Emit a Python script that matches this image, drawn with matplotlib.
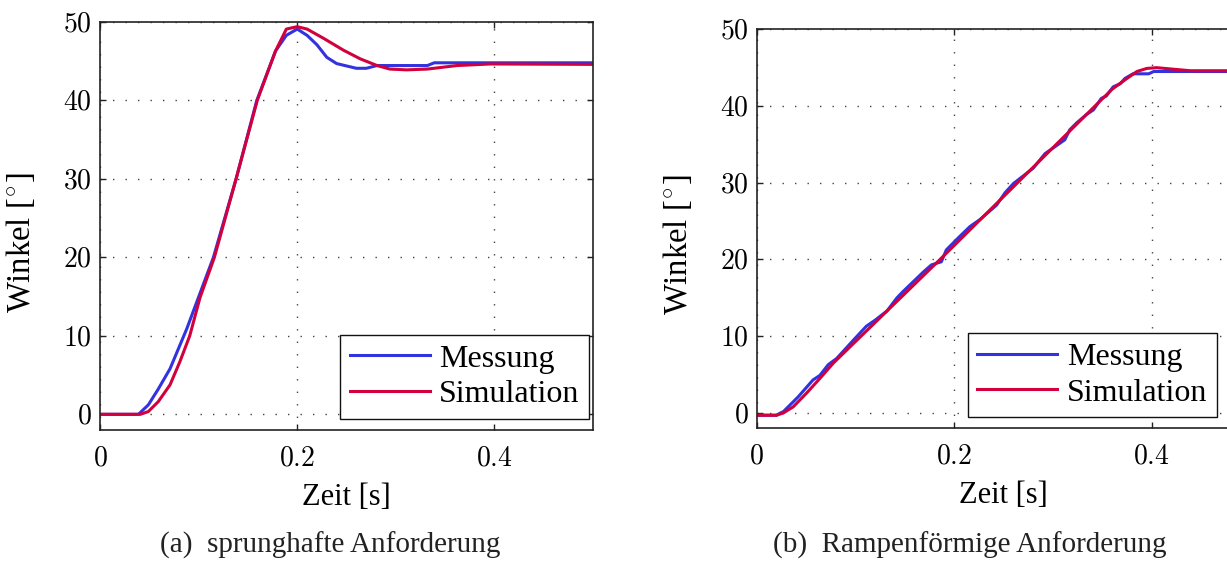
import numpy as np
import matplotlib
matplotlib.use('Agg')
import matplotlib.pyplot as plt

# data
# (a) step request
t_step_mess = [0, 0.039, 0.049, 0.059, 0.071, 0.088, 0.115, 0.138, 0.159, 0.178, 0.189,
               0.200, 0.210, 0.220, 0.230, 0.240, 0.260, 0.270, 0.281, 0.332, 0.339, 0.5]
v_step_mess = [0, 0, 1.2, 3.2, 5.8, 10.9, 20, 30, 40, 46.3, 48.3,
               49.1, 48.3, 47.1, 45.5, 44.7, 44.1, 44.1, 44.45, 44.45, 44.8, 44.8]
t_step_sim = [0, 0.041, 0.049, 0.059, 0.071, 0.081, 0.091, 0.1015, 0.116, 0.138, 0.1595,
              0.178, 0.189, 0.200, 0.210, 0.227, 0.247, 0.264, 0.281, 0.294, 0.311,
              0.332, 0.362, 0.396, 0.5]
v_step_sim = [0, 0, 0.35, 1.6, 3.75, 6.7, 10.0, 14.9, 20, 30, 40,
              46.3, 49.1, 49.4, 49.1, 47.9, 46.4, 45.3, 44.45, 44.0, 43.9,
              44.0, 44.45, 44.65, 44.6]

# (b) ramp request
t_ramp_mess = [0, 0.020, 0.024, 0.027, 0.042, 0.057, 0.064, 0.0725, 0.081, 0.098,
               0.111, 0.120, 0.132, 0.142, 0.148, 0.169, 0.177, 0.187, 0.192, 0.204,
               0.216, 0.226, 0.243, 0.2515, 0.260, 0.270, 0.280, 0.292, 0.302, 0.312,
               0.317, 0.324, 0.334, 0.341, 0.349, 0.354, 0.361, 0.368, 0.373, 0.381,
               0.397, 0.402, 0.5]
v_ramp_mess = [-0.3, -0.3, 0.0, 0.17, 2.1, 4.3, 4.9, 6.3, 7.1, 9.5,
               11.3, 12.1, 13.3, 15.0, 15.8, 18.4, 19.3, 19.7, 21.25, 22.8,
               24.3, 25.2, 27.1, 28.7, 29.9, 30.9, 31.9, 33.8, 34.7, 35.6,
               36.9, 37.8, 38.9, 39.5, 41.0, 41.3, 42.5, 42.9, 43.6, 44.2,
               44.2, 44.5, 44.5]
t_ramp_sim = [0, 0.020, 0.027, 0.037, 0.0506, 0.064, 0.0776, 0.1856, 0.3426, 0.360,
              0.375, 0.385, 0.395, 0.405, 0.422, 0.439, 0.5]
v_ramp_sim = [-0.3, -0.3, 0.0, 0.8, 2.6, 4.5, 6.5, 20, 40, 42.2,
              43.6, 44.5, 44.9, 45.0, 44.8, 44.6, 44.6]

xticks = [0, 0.2, 0.4]
xticklabels = ['$0$', '$0.2$', '$0.4$']
yticks = [0, 10, 20, 30, 40, 50]
yticklabels = ['$0$', '$10$', '$20$', '$30$', '$40$', '$50$']
labels = ['Messung', 'Simulation']
captions = ['(a)  sprunghafte Anforderung', '(b)  Rampenförmige Anforderung']

blue = '#3232e0'
red = '#d2003c'

plt.rcParams['font.family'] = ['Liberation Serif', 'DejaVu Serif']
plt.rcParams['mathtext.fontset'] = 'cm'

fig = plt.figure(figsize=(12.27, 5.63), dpi=100)
ax1 = fig.add_axes([100 / 1227, 133 / 563, 493 / 1227, 408 / 563])
ax2 = fig.add_axes([756.7 / 1227, 134.7 / 563, 493.75 / 1227, 399 / 563])


def style(ax, legend_anchor):
    ax.set_xlim(0, 0.5)
    ax.set_ylim(-2, 50)
    ax.set_xticks(xticks)
    ax.set_xticklabels(xticklabels)
    ax.set_yticks(yticks)
    ax.set_yticklabels(yticklabels)
    ax.tick_params(direction='in', top=True, right=True, length=4, width=1,
                   labelsize=20, color='#222')
    ax.tick_params(axis='x', pad=12)
    ax.tick_params(axis='y', pad=6)
    ax.set_axisbelow(True)
    ax.grid(True, linestyle=(0, (1, 8)), color='#444', linewidth=1.0)
    for s in ax.spines.values():
        s.set_linewidth(1.2)
        s.set_color('#222')
    ax.set_xlabel('Zeit [s]', fontsize=22, labelpad=8)
    ax.set_ylabel('Winkel [$^{\\circ}$]', fontsize=23.5)
    ax.yaxis.set_label_coords(-0.128, 0.46)
    leg = ax.legend(labels, loc='lower right', bbox_to_anchor=legend_anchor,
                    borderaxespad=0, fontsize=23, handlelength=2.5,
                    handletextpad=0.3, labelspacing=0.2, borderpad=0.3,
                    fancybox=False, framealpha=1, edgecolor='#111')
    leg.get_frame().set_linewidth(1.0)


ax1.plot(t_step_mess, v_step_mess, color=blue, lw=2.2)
ax1.plot(t_step_sim, v_step_sim, color=red, lw=2.2)
style(ax1, (0.992, 0.027))

ax2.plot(t_ramp_mess, v_ramp_mess, color=blue, lw=2.2)
ax2.plot(t_ramp_sim, v_ramp_sim, color=red, lw=2.2)
style(ax2, (0.932, 0.028))

fig.text(330 / 1227, 10 / 563, captions[0], ha='center', va='baseline',
         fontsize=21, color='#222')
fig.text(970 / 1227, 10 / 563, captions[1], ha='center', va='baseline',
         fontsize=21, color='#222')

fig.savefig('out.png', dpi=100)
